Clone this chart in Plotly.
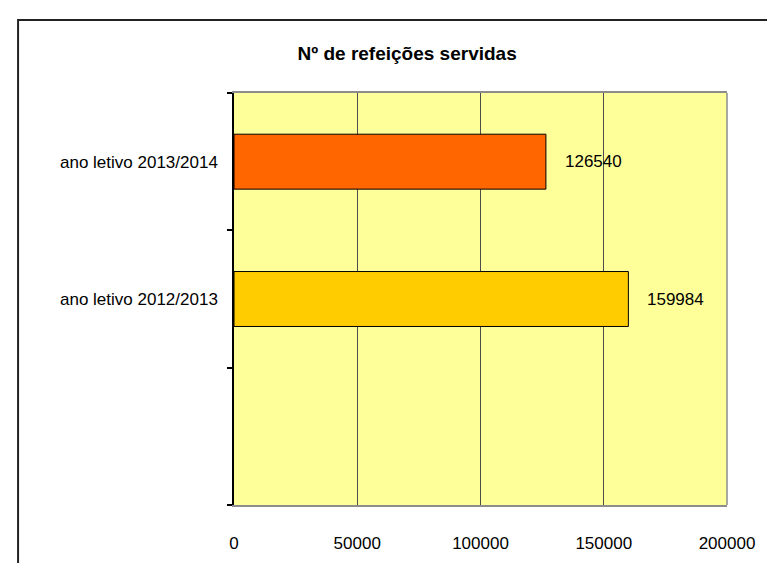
import plotly.graph_objects as go

# categories as they sit on the axis, bottom to top (bottom slot is empty)
categorias = [" ", "ano letivo 2012/2013", "ano letivo 2013/2014"]
anos = ["ano letivo 2012/2013", "ano letivo 2013/2014"]
refeicoes = [159984, 126540]
cores = ["#FFCC00", "#FF6600"]
x_ticks = [0, 50000, 100000, 150000, 200000]

fonte = "Liberation Sans, Arial, sans-serif"

fig = go.Figure()
fig.add_trace(go.Bar(
    x=refeicoes, y=anos, orientation="h",
    marker=dict(color=cores, line=dict(color="black", width=1)),
    hoverinfo="x+y", showlegend=False,
))

# data labels to the right of each bar
for v, a in zip(refeicoes, anos):
    fig.add_annotation(x=v, y=a, text=str(v), showarrow=False,
                       xanchor="left", xshift=17,
                       font=dict(size=17, color="black", family=fonte))

# outer chart frame (runs past the right and bottom edges like the original)
fig.add_shape(type="rect", xref="paper", yref="paper",
              x0=-0.438, x1=1.3, y0=-0.4, y1=1.177,
              line=dict(color="#222222", width=2), layer="below")
# grey right edge of the plot area
fig.add_shape(type="line", xref="paper", yref="paper",
              x0=1, x1=1, y0=0, y1=1,
              line=dict(color="#8c8c8c", width=1.5))

fig.update_layout(
    width=775, height=563,
    margin=dict(l=226, r=56, t=85, b=66),
    paper_bgcolor="white", plot_bgcolor="#FFFF99",
    bargap=0.6,
    title=dict(text="<b>Nº de refeições servidas</b>", x=0.515, xanchor="center",
               y=0.92, yanchor="middle",
               font=dict(size=19, color="black", family=fonte)),
    font=dict(family=fonte, size=17, color="black"),
)
fig.update_xaxes(
    range=[0, 200000], tickvals=x_ticks, ticktext=[str(t) for t in x_ticks],
    showgrid=True, gridcolor="#4d4d4d", gridwidth=1,
    showline=True, linecolor="#8c8c8c", linewidth=1.5, mirror=True,
    ticks="", ticklabelstandoff=22, zeroline=False,
    tickfont=dict(size=17, family=fonte),
)
fig.update_yaxes(
    type="category", categoryorder="array", categoryarray=categorias,
    range=[-0.5, 2.5], tickson="boundaries",
    ticks="outside", ticklen=5, tickcolor="black", tickwidth=1.5,
    showline=True, linecolor="black", linewidth=1.5,
    showgrid=False, ticklabelstandoff=11,
    tickfont=dict(size=17, family=fonte),
)

fig.write_html("out.html")
